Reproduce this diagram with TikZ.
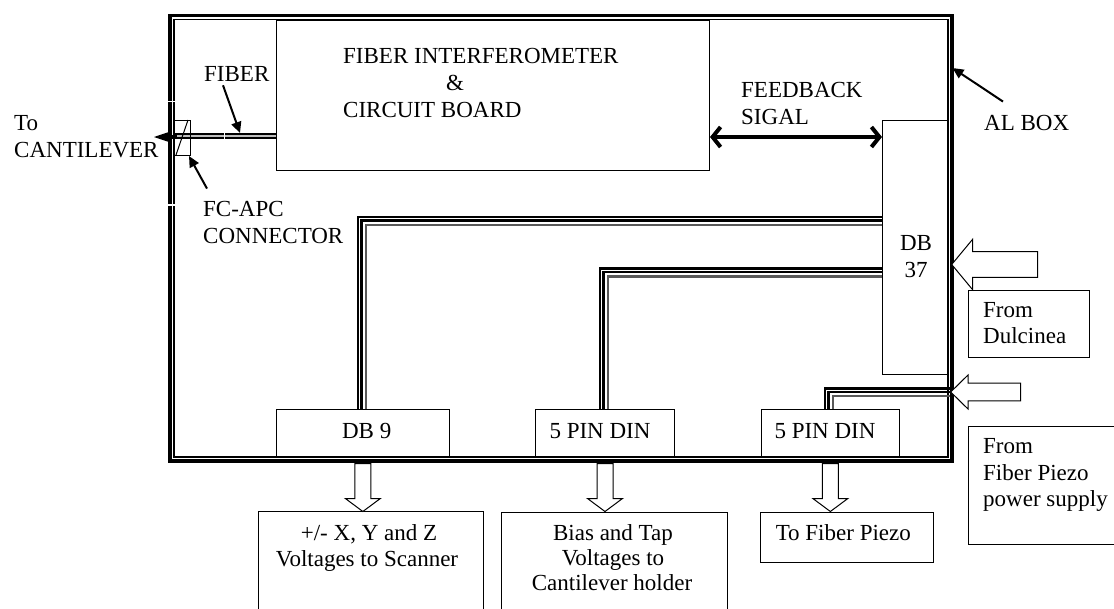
\documentclass[tikz,border=0pt]{standalone}
\usepackage{fontspec}
\setmainfont{Liberation Serif}
\usetikzlibrary{arrows.meta,calc}
\begin{document}
\begin{tikzpicture}[x=1pt,y=-1pt,
  txt/.style={inner sep=0pt, font=\fontsize{23}{27}\selectfont},
  boxst/.style={draw, line width=1pt, inner sep=0pt, anchor=north west},
  thinarr/.style={line width=2pt, -{Triangle[length=11pt,width=10pt]}},
  blockarr/.style={draw, line width=1pt, fill=white, line join=miter},
  cabA/.style={line width=2.8pt},
  cabB/.style={line width=2.5pt},
  cabC/.style={line width=2.2pt, black!65},
]
\useasboundingbox (0,0) rectangle (1114,608);

% ---- AL box frame
\draw[line width=3.2pt] (170,15.8) rectangle (952,461);
\draw[line width=1.6pt] (174,19.6) rectangle (948.2,457);

% ---- boxes
\node[boxst, minimum width=433pt, minimum height=150.6pt] (fib) at (276,19.6) {};
\node[boxst, minimum width=66pt, minimum height=254pt] (db37) at (882,120) {};
\node[boxst, minimum width=173.3pt, minimum height=47.5pt] (db9) at (275.7,409) {};
\node[boxst, minimum width=139pt, minimum height=47.5pt] (din1) at (535,409) {};
\node[boxst, minimum width=138.3pt, minimum height=47.5pt] (din2) at (760.7,409) {};
\node[boxst, minimum width=225pt, minimum height=129pt] (out1) at (258,511) {};
\node[boxst, minimum width=226pt, minimum height=129pt] (out2) at (500.7,511.5) {};
\node[boxst, minimum width=173pt, minimum height=50.2pt] (out3) at (760,511.5) {};
\node[boxst, minimum width=121pt, minimum height=67pt] (dul) at (968,290) {};
\node[boxst, minimum width=162pt, minimum height=118.3pt] (fps) at (968,425.7) {};

% ---- texts
\node[txt, anchor=base west] (t1) at (343,63) {FIBER INTERFEROMETER};
\node[txt, anchor=base] (t2) at (455,90) {\&};
\node[txt, anchor=base west] (t3) at (343,117) {CIRCUIT BOARD};
\node[txt, anchor=base west] (fiberlbl) at (204,81) {FIBER};
\node[txt, anchor=base west] (to1) at (14,130) {To};
\node[txt, anchor=base west] (to2) at (14,157) {CANTILEVER};
\node[txt, anchor=base west] (fcl) at (203,216) {FC-APC};
\node[txt, anchor=base west] (fcl2) at (203,243) {CONNECTOR};
\node[txt, anchor=base west] (fb1) at (741,97) {FEEDBACK};
\node[txt, anchor=base west] (fb2) at (741,124) {SIGAL};
\node[txt, anchor=base west] (albox) at (984,130) {AL BOX};
\node[txt, anchor=base] (db37a) at (916,250) {DB};
\node[txt, anchor=base] (db37b) at (916,277) {37};
\node[txt, anchor=base] (db9t) at (366.7,438) {DB 9};
\node[txt, anchor=base] (din1t) at (600,438) {5 PIN DIN};
\node[txt, anchor=base] (din2t) at (825,438) {5 PIN DIN};
\node[txt, anchor=base] (o1a) at (369,540) {+/- X, Y and Z};
\node[txt, anchor=base] (o1b) at (367,566.7) {Voltages to Scanner};
\node[txt, anchor=base] (o2a) at (613,540) {Bias and Tap};
\node[txt, anchor=base] (o2b) at (613,565) {Voltages to};
\node[txt, anchor=base] (o2c) at (612,590) {Cantilever holder};
\node[txt, anchor=base] (o3a) at (843.3,540) {To Fiber Piezo};
\node[txt, anchor=base west] (dula) at (983,317) {From};
\node[txt, anchor=base west] (dulb) at (983,343) {Dulcinea};
\node[txt, anchor=base west] (fpsa) at (983,453) {From};
\node[txt, anchor=base west] (fpsb) at (983,480) {Fiber Piezo};
\node[txt, anchor=base west] (fpsc) at (983,506.7) {power supply};

% ---- cables
\draw[cabA] (db37.west |- 0,217) -| (358,0 |- db9.north);
\draw[cabB] (db37.west |- 0,220.7) -| (361.7,0 |- db9.north);
\draw[cabC] (db37.west |- 0,225) -| (366,0 |- db9.north);
\draw[cabA] (db37.west |- 0,268.5) -| (600,0 |- din1.north);
\draw[cabB] (db37.west |- 0,272.2) -| (603.7,0 |- din1.north);
\draw[cabC] (db37.west |- 0,276.5) -| (608,0 |- din1.north);
\coordinate (wallC) at (950,392);
\draw[cabA] (wallC |- 0,388.2) -| (825,0 |- din2.north);
\draw[cabB] (wallC |- 0,391.9) -| (828.7,0 |- din2.north);
\draw[cabC] (wallC |- 0,396.2) -| (833,0 |- din2.north);

% ---- fiber and connector
\draw[line width=1.9pt, double=black!25, double distance=1.6pt] (fib.west |- 0,136) -- (173,136);
\draw[white, line width=1pt] (224,132.5) -- (224,139.5);
\draw[white, line width=1.3pt] (166.5,101.5) -- (176,101.5);
\draw[white, line width=1.3pt] (166.5,205) -- (176,205);
\coordinate (conn) at (190,155);
\coordinate (cantip) at (154,137);
\draw[line width=4pt] (177,137) -- (166,137);
\fill (cantip) -- (171,131.3) -- (171,142.7) -- cycle;
\draw[line width=1pt] (173,120) -- (190,120) -- (conn) -- (173,155);
\draw[line width=1pt] (188,120) -- (176,155);

% ---- label arrows
\draw[thinarr] ($(fiberlbl.south west)+(19,4)$) -- (240,133);
\draw[thinarr] ($(fcl.north west)+(4,-12)$) -- ($(conn)+(-1,1)$);
\coordinate (alpt) at (952.5,68);
\draw[thinarr] ($(albox.north west)+(19,-13)$) -- (alpt);

% ---- feedback
\draw[line width=4pt, {Straight Barb[length=8pt,width=20pt]}-{Straight Barb[length=8pt,width=20pt]}]
  (fib.east |- 0,137) -- (db37.west |- 0,137);

% ---- block arrows down
\foreach \n in {db9,din1,din2}{
  \draw[blockarr, shift={(\n.south)}] (-8,6) -- (-8,41) -- (-17.5,41) -- (0,54) -- (17.5,41) -- (8,41) -- (8,6) -- cycle;
}
% ---- block arrows left
\coordinate (dultip) at (951.7,264.5);
\draw[blockarr, shift={(dultip)}] (0,0) -- (21,-25.3) -- (21,-12.8) -- (86,-12.8) -- (86,12.8) -- (21,12.8) -- (21,25.3) -- cycle;
\draw[blockarr, shift={(wallC)}] (0.7,0) -- (18,-17) -- (18,-8.8) -- (70.7,-8.8) -- (70.7,8.8) -- (18,8.8) -- (18,17) -- cycle;
\end{tikzpicture}
\end{document}
